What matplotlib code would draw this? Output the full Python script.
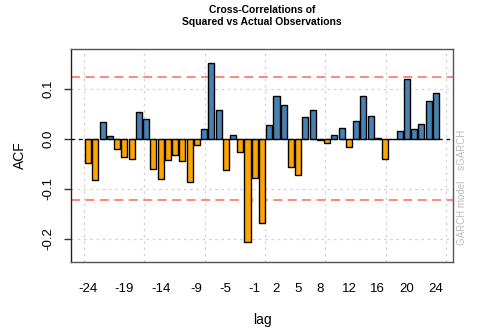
import matplotlib
matplotlib.use("Agg")
import matplotlib.pyplot as plt
import numpy as np

plt.rcParams["font.family"] = ["Liberation Sans", "DejaVu Sans"]

lags = list(range(-24, 25))
ccf = [-0.049, -0.082, 0.033, 0.005, -0.020, -0.036, -0.041, 0.054, 0.039,
       -0.061, -0.081, -0.043, -0.033, -0.045, -0.086, -0.012, 0.020, 0.151,
       0.057, -0.063, 0.007, -0.027, -0.206, -0.078, -0.168, 0.027, 0.086,
       0.068, -0.057, -0.073, 0.043, 0.057, -0.003, -0.009, 0.008, 0.021,
       -0.017, 0.036, 0.085, 0.045, 0.002, -0.040, -0.001, 0.015, 0.120,
       0.019, 0.030, 0.075, 0.091]
conf = 0.1225
tick_labels = [-24, -19, -14, -9, -5, -1, 2, 5, 8, 12, 16, 20, 24]
yticks = [-0.2, -0.1, 0.0, 0.1]

fig = plt.figure(figsize=(4.8, 3.34), dpi=100)
ax = fig.add_axes([71/480, 1 - 262/334, (453-71)/480, (262-49)/334])

lag_arr = np.array(lags)
vals = np.array(ccf)
colors = ["#4682B4" if v > 0 else "#FFA500" for v in vals]

# grid (R-style, barplot coordinates every 10 units)
for g in range(0, 70, 10):
    gx = -24 + (g - 0.7) / 1.2
    ax.axvline(gx, color="#D3D3D3", linestyle=(0, (2, 3)), linewidth=0.9, zorder=0)
for yt in yticks:
    ax.axhline(yt, color="#D3D3D3", linestyle=(0, (2, 3)), linewidth=0.9, zorder=0)

ax.bar(lag_arr, vals, width=1/1.2, color=colors, edgecolor="black", linewidth=1.0, zorder=2)
ax.axhline(0, color="black", linestyle=(0, (3, 3)), linewidth=0.9, zorder=3)
ax.axhline(conf, color="#FF7F6E", linestyle=(0, (5, 3)), linewidth=1.3, zorder=1)
ax.axhline(-conf, color="#FF7F6E", linestyle=(0, (5, 3)), linewidth=1.3, zorder=1)

ax.set_xlim(-26.37, 26.37)
ax.set_ylim(-0.246, 0.179)

ax.set_xticks(tick_labels)
ax.set_xticklabels([str(t) for t in tick_labels], fontsize=9.5)
ax.tick_params(axis="x", length=0, pad=15)
ax.set_yticks(yticks)
ax.set_yticklabels(["-0.2", "-0.1", "0.0", "0.1"], fontsize=9.5, rotation=90, va="center")
ax.tick_params(axis="y", length=5, width=1.0, color="#333333", pad=7)

for s in ax.spines.values():
    s.set_color("#555555")
    s.set_linewidth(1.0)
ax.spines["left"].set_color("#222222")

ax.set_xlabel("lag", fontsize=10, labelpad=13)
ax.set_ylabel("ACF", fontsize=10, labelpad=11)

fig.text(262/480, 1 - 10/334, "Cross-Correlations of", ha="center", va="center",
         fontsize=7.5, fontweight="bold")
fig.text(262/480, 1 - 22/334, "Squared vs Actual Observations", ha="center", va="center",
         fontsize=7.5, fontweight="bold")
fig.text(462/480, 1 - 187/334, "GARCH model :  sGARCH", rotation=90, ha="center", va="center",
         fontsize=7, color="#BBBBBB")

fig.savefig("out.png", dpi=100)
